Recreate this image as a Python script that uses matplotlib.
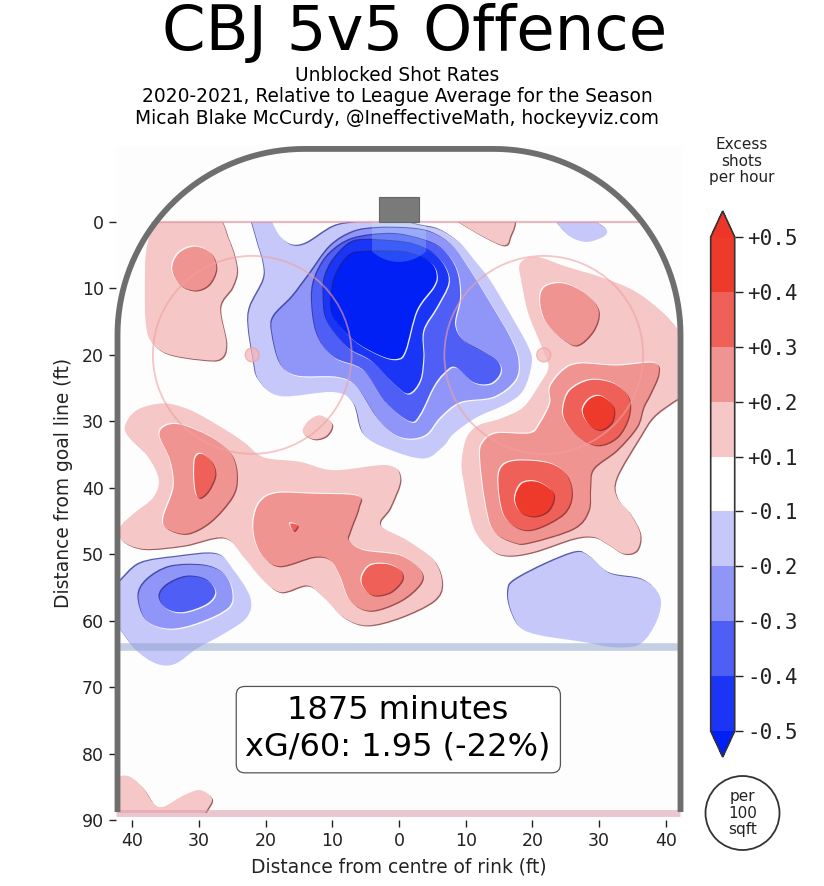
import numpy as np
import matplotlib
matplotlib.use("Agg")
import matplotlib.pyplot as plt
import matplotlib.patheffects as pe
from matplotlib.cm import ScalarMappable
from matplotlib.colors import BoundaryNorm, ListedColormap
from matplotlib.patches import Circle, Ellipse, FancyBboxPatch, PathPatch, Rectangle
from matplotlib.path import Path

# contour outlines, (feet across, feet from goal line)
RED_1 = [
    [(-36, -1.5), (-28, -1.5), (-25.5, 2.7), (-24.3, 7), (-25, 9.8), (-26.8, 12.8), (-25.9, 18.3), (-26.8, 20.6),
     (-29.8, 20.7), (-34.8, 19.8), (-37.3, 17.8), (-38, 14.8), (-38.1, 10.3), (-38, 5.2), (-37.3, 1.7)],
    [(-14.45, 31.3), (-13.55, 29.9), (-11.8, 29.1), (-10.05, 30.4), (-10.8, 32.1), (-12.55, 32.7), (-14.05, 32.1)],
    [(7.5, -1), (8.9, 0), (12.65, 2.2), (15.65, 3.5), (16.6, 2.4), (16.7, -1)],
    [(18.15, 6.25), (20.65, 5.25), (25.15, 6.75), (30.15, 8.25), (35.15, 10.3), (39.15, 13.3), (41.9, 16.3),
     (44.5, 19), (45, 24.5), (41.15, 27), (38.15, 29.3), (36.15, 32.3), (32.65, 38.4), (32.65, 41.4), (34.65, 43.9),
     (36.15, 46.9), (35.65, 49.4), (33.65, 49.9), (31.15, 48.4), (29.15, 47.4), (26.15, 47.65), (20.15, 49.65),
     (16.15, 50.2), (13.65, 49.2), (11.15, 45.9), (9.65, 38.9), (9.4, 35.85), (10.15, 32.4), (11.9, 30.6),
     (15.15, 29.6), (18.65, 27.85), (21.15, 24.3), (22.4, 21.8), (21.4, 18.8), (19.4, 13.8), (18.4, 9.25)],
    [(-41.05, 30.6), (-39.3, 28.3), (-35.3, 27.3), (-31.3, 28.3), (-26.3, 31.1), (-23.3, 33.1), (-20.3, 35.4),
     (-14.8, 36.1), (-9.8, 37.35), (-1.8, 36.6), (0.2, 38.6), (-1.3, 42.9), (-2.8, 45.6), (1.2, 47.9), (5.2, 50.9),
     (6.45, 54.4), (5.2, 57), (0.2, 59.5), (-4.8, 60.7), (-8.3, 59.5), (-11.3, 56.45), (-13.8, 54.7), (-17.8, 55.7),
     (-20.8, 53.4), (-23.3, 50.4), (-26.3, 47.5), (-32.3, 48.7), (-38.3, 49.2), (-41.55, 47.9), (-41.8, 45.9),
     (-39.8, 43.9), (-36.8, 41.4), (-36.05, 38.6), (-37.8, 35.1), (-40.55, 32.3)],
    [(-42.05, 83.5), (-40.3, 83.5), (-38.3, 85.3), (-36.8, 87.5), (-35.3, 88), (-32.3, 86.3), (-29.8, 85.5),
     (-28.05, 86.8), (-28.8, 88.5), (-29.3, 89.3), (-30, 91), (-44, 91), (-44, 85)],
]
RED_2 = [
    [(-34, 7), (-33, 4.7), (-30.6, 3.7), (-28.2, 4.7), (-27.4, 7), (-28.5, 9.4), (-30.6, 10.3), (-32.9, 9.4)],
    [(21.15, 11.75), (21.9, 9.75), (24.65, 9.25), (27.9, 10.75), (29.9, 13.3), (29.15, 16.3), (26.65, 18.55),
     (24.15, 17.3), (21.9, 14.8)],
    [(38.15, 21.2), (38.9, 22.8), (37.65, 25.85), (36.65, 27.8), (35.65, 30.8), (32.65, 34.3), (29.15, 37.1),
     (28.65, 39.9), (28.4, 43.4), (26.15, 46.1), (19.65, 48.2), (17.15, 48.2), (14.15, 46.4), (12.9, 41.9),
     (12.15, 35.3), (12.65, 33.1), (14.65, 31.8), (19.65, 31.8), (21.15, 30.3), (22.65, 27.3), (22.65, 24.85),
     (24.65, 22.3), (27.15, 21.3), (32.65, 21.6)],
    [(-35.9, 32.1), (-34.8, 30.6), (-32.3, 30.6), (-27.8, 32.6), (-25.05, 35.1), (-24.3, 38.4), (-25.05, 41.4),
     (-28.3, 45.1), (-31.8, 46.9), (-34.8, 46.1), (-35.3, 44.4), (-33.8, 39.9), (-34.3, 35.85)],
    [(-21.8, 44.9), (-20.8, 42.1), (-18.3, 40.8), (-12.8, 40.9), (-6.3, 41.2), (-6.05, 42.9), (-7.3, 46.4),
     (-7.55, 47.9), (-5.3, 49.4), (0.2, 50.2), (3.2, 52.4), (3.2, 54.4), (0.2, 57), (-4.3, 58.5), (-7.3, 57),
     (-8.8, 53.4), (-10.3, 50.9), (-12.8, 50.4), (-17.8, 51.8), (-20.3, 50.4), (-21.55, 47.9)],
]
RED_3 = [
    [(24.65, 27.85), (25.65, 25.35), (28.65, 23.8), (32.15, 24.3), (34.4, 26.35), (34.4, 29.35), (32.65, 32.4),
     (29.65, 33.6), (26.65, 32.1), (24.9, 29.85)],
    [(14.9, 38.9), (15.65, 36.6), (18.15, 35.9), (22.65, 36.35), (25.15, 38.1), (25.9, 41.1), (24.65, 43.9),
     (20.65, 46.1), (17.9, 46.1), (15.65, 43.9)],
    [(-30.55, 35.6), (-29.55, 34.9), (-28.05, 36.1), (-27.55, 38.1), (-28.55, 40.4), (-29.8, 41.5), (-30.4, 40.9),
     (-30.7, 38.4)],
    [(-16.3, 45.4), (-15.2, 45.65), (-15.8, 46.5)],
    [(-5.55, 53.4), (-4.3, 51.7), (-1.8, 51.5), (0.2, 52.4), (0.45, 53.9), (-1.3, 55.7), (-3.8, 56.2), (-5.3, 55)],
]
RED_4 = [
    [(27.55, 28.35), (28.65, 26.6), (30.4, 26.25), (32.15, 27.85), (31.9, 30.1), (30.15, 31.3), (28.4, 30.4)],
    [(17.4, 41.6), (18.4, 39.4), (20.65, 39.1), (22.9, 40.4), (23.15, 41.9), (22.15, 43.6), (20.15, 44.3),
     (18.15, 43.6)],
]
BLUE_1 = [
    [(-22.2, -1.5), (-21.3, 2.7), (-20.3, 6.2), (-20.3, 8.75), (-22.3, 12.8), (-22.55, 15.8), (-21.8, 20.8),
     (-21, 23.8), (-17.8, 26.2), (-9.8, 25.6), (-6.8, 27.3), (-5.3, 31.9), (-1.8, 34.1), (3.7, 35.6), (6.7, 33.7),
     (8.15, 31.9), (11.65, 29.4), (16.15, 27.35), (18.65, 25.3), (19.9, 21.3), (19.4, 18.8), (16.65, 13.8),
     (13.65, 8.75), (11.65, 6.2), (9.15, 3.2), (6.15, 1.2), (3.15, 0.5), (-2, -0.6), (-6.3, 0), (-9.8, 0.7),
     (-13.8, 3.2), (-16, 3.5), (-17.8, 2.2), (-19, 0), (-19.5, -1.5)],
    [(23.4, -1), (23.65, 0), (25.65, 2.2), (28.15, 3), (30.65, 2.2), (31.15, 1.2), (29.65, 0), (29.5, -1)],
    [(16.4, 55.4), (17.4, 53.9), (22.15, 51.4), (26.65, 49.7), (28.65, 50.4), (31.65, 52.9), (36.65, 53.9),
     (39.15, 56.45), (38.65, 60), (36.15, 63.5), (32.15, 64), (27.65, 63.2), (21.15, 62.2), (18.15, 61), (16.65, 58)],
    [(-44, 55), (-42, 54.2), (-38.8, 51.4), (-33.3, 50.4), (-27.3, 50), (-24.8, 52.4), (-22.3, 56.5), (-22.8, 59.5),
     (-26.3, 62), (-30.3, 64.2), (-33.55, 66.5), (-36.3, 66.5), (-39.3, 64.5), (-42, 61), (-44, 58)],
]
BLUE_2 = [
    [(-18.8, 14.3), (-16, 11.3), (-13.5, 8), (-10.3, 3.7), (-6.8, 1.5), (-3, 0.9), (2, 1), (5.15, 1.7), (8.15, 3.7),
     (10.65, 7.25), (13.15, 11.3), (16.65, 17.3), (17.9, 20.8), (17.4, 23.8), (14.15, 26.3), (9.15, 27.1),
     (6.15, 29.4), (4.15, 31.9), (1.7, 32.6), (-0.8, 31.9), (-3.3, 29.4), (-6.3, 24.8), (-9.3, 23.3), (-15.3, 23.1),
     (-17.8, 21.3), (-19, 16.8)],
    [(-39.05, 56.45), (-37.8, 53.9), (-34.3, 51.9), (-29.3, 51.7), (-26.3, 52.9), (-25.05, 55.4), (-25.55, 58),
     (-29.8, 60.2), (-34.3, 61.2), (-37.8, 60)],
]
BLUE_3 = [
    [(-12.3, 7.75), (-13.05, 11.3), (-12.3, 16.8), (-9.8, 20.3), (-5.3, 22.3), (-1.8, 27.3), (1.65, 30), (3.15, 28.9),
     (5.15, 24.8), (6.65, 22.8), (8.4, 21.8), (11.15, 24.1), (13.65, 24.3), (15.15, 22.8), (14.9, 21.1),
     (12.65, 19.6), (9.65, 17.8), (8.4, 15.3), (9.15, 11.3), (8.65, 7.25), (6.65, 4.2), (3.65, 2.7), (-1, 1.8),
     (-6.8, 2.5), (-10.3, 4.7)],
    [(-35.9, 56.45), (-34.8, 54.7), (-31.8, 53.4), (-28.8, 53.9), (-27.55, 55.7), (-28.8, 57.45), (-32.3, 58.7),
     (-34.8, 58.2)],
]
BLUE_4 = [
    [(-11.3, 10.8), (-10.8, 14.8), (-7.8, 18.8), (-4.3, 20.8), (-0.8, 24.3), (1.4, 25.8), (3.15, 23.8), (3.65, 20.3),
     (3.65, 16.3), (5.65, 12.8), (7.4, 9.25), (6.9, 6.75), (5.15, 4.7), (2.65, 3.5), (0.15, 3), (-4.8, 2.7),
     (-7.3, 3.2), (-9.8, 5.7), (-11.05, 8.25)],
]
BLUE_5 = [
    [(-10.05, 10.8), (-9.8, 14.3), (-6.8, 17.8), (-2.8, 20.1), (-0.3, 20.6), (0.95, 19.3), (2.65, 13.3), (5.15, 9.75),
     (5.65, 8), (4.9, 6.25), (2.65, 5), (0.15, 4.5), (-4.8, 4.5), (-7.3, 5), (-9.3, 7.75)],
]

bar_bounds = [-0.5, -0.4, -0.3, -0.2, -0.1, 0.1, 0.2, 0.3, 0.4, 0.5]
bar_labels = ["-0.5", "-0.4", "-0.3", "-0.2", "-0.1", "+0.1", "+0.2", "+0.3", "+0.4", "+0.5"]
bar_colors = ["#1a35f6", "#4f5ff6", "#9096f8", "#c6c8fa", "#ffffff", "#f5c7c7", "#f09491", "#ee6058", "#ee3a2b"]
under_color = "#0020f5"
over_color = "#ee3527"

x_ticks = [-40, -30, -20, -10, 0, 10, 20, 30, 40]
y_ticks = [0, 10, 20, 30, 40, 50, 60, 70, 80, 90]

RED_BANDS = [(RED_1, "#f5c7c7"), (RED_2, "#f09491"), (RED_3, "#ee6058"), (RED_4, "#ee3a2b")]
BLUE_BANDS = [(BLUE_1, "#c6c8fa"), (BLUE_2, "#9096f8"), (BLUE_3, "#4f5ff6"), (BLUE_4, "#1a35f6"), (BLUE_5, "#0020f5")]

W, H = 824, 886


def smooth_path(points):
    # closed Catmull-Rom outline as bezier segments so it goes through the points
    p = np.array(points, dtype=float)
    n = len(p)
    verts = [p[0]]
    codes = [Path.MOVETO]
    for i in range(n):
        p0, p1, p2, p3 = p[i - 1], p[i], p[(i + 1) % n], p[(i + 2) % n]
        verts += [p1 + (p2 - p0) / 6, p2 - (p3 - p1) / 6, p2]
        codes += [Path.CURVE4] * 3
    return Path(verts, codes)


def draw_band(ax, outlines, color, dark, clip, flip=False):
    # bevel: dark copy to one side, white copy to the other, then the fill
    sign = -1 if flip else 1
    effects = [
        pe.SimplePatchShadow(offset=(0.8 * sign, -0.8 * sign), shadow_rgbFace=dark, alpha=0.7, rho=1),
        pe.SimplePatchShadow(offset=(-0.8 * sign, 0.8 * sign), shadow_rgbFace="#ffffff", alpha=0.9, rho=1),
        pe.Normal(),
    ]
    for outline in outlines:
        patch = PathPatch(smooth_path(outline), facecolor=color, edgecolor="none", zorder=2)
        patch.set_path_effects(effects)
        ax.add_patch(patch)
        patch.set_clip_path(clip)


fig = plt.figure(figsize=(W / 100, H / 100), dpi=100, facecolor="white")
ax = fig.add_axes([115.5 / W, 1 - 820 / H, 567 / W, (820 - 145.6) / H])
ax.set_xlim(-42.5, 42.5)
ax.set_ylim(90, -11.5)
ax.set_facecolor("#fdfdfd")
for side in ax.spines.values():
    side.set_visible(False)

clip_box = Rectangle((-42.2, 0), 84.4, 89, transform=ax.transData)

for outlines, color in RED_BANDS:
    draw_band(ax, outlines, color, "#7a1a1a", clip_box)
for outlines, color in BLUE_BANDS:
    draw_band(ax, outlines, color, "#10188c", clip_box, flip=True)

# rink markings on top of the shading
ax.plot([-36.3, 36], [0, 0], color="#dc8c96", alpha=0.6, lw=1.6, zorder=3, solid_capstyle="butt")
ax.plot([-42.5, 42.2], [64, 64], color="#8ea2cc", alpha=0.5, lw=5.5, zorder=3, solid_capstyle="butt")
ax.plot([-42.5, 42.2], [89, 89], color="#dc9aaa", alpha=0.55, lw=5.0, zorder=3, solid_capstyle="butt")

for cx in [-22, 21.7]:
    ax.add_patch(Circle((cx, 20), 14.9, facecolor="none", edgecolor="#f0a0a0", alpha=0.6, lw=1.3, zorder=3))
    ax.add_patch(Circle((cx, 20), 1.05, facecolor="#f5b5b5", edgecolor="#f0a0a0", alpha=0.7, lw=1, zorder=3))

crease = Circle((0, 0), 6, facecolor="#c8ffff", edgecolor="none", alpha=0.2, zorder=3)
ax.add_patch(crease)
crease.set_clip_path(Rectangle((-4, 0), 8, 6, transform=ax.transData))

ax.add_patch(Rectangle((-3, -3.75), 6, 3.75, facecolor="#7a7a7a", edgecolor="#666666", lw=0.8, zorder=4))

# boards
t = np.linspace(np.pi, 1.5 * np.pi, 40)
left_x = -14.2 + 28 * np.cos(t)
left_y = 17 + 28 * np.sin(t)
board_x = np.concatenate([[-42.2], left_x, -left_x[::-1], [42.2]])
board_y = np.concatenate([[88.8], left_y, left_y[::-1], [88.8]])
ax.plot(board_x, board_y, color="#6e6e6e", lw=4.2, zorder=5, solid_capstyle="butt", clip_on=False)

ax.add_patch(FancyBboxPatch((-24.4, 69.9), 48.6, 13, boxstyle="round,pad=0,rounding_size=1.3",
                            facecolor="white", edgecolor="#555555", lw=0.9, zorder=6))
ax.text(-0.2, 76.3, "1875 minutes\nxG/60: 1.95 (-22%)", ha="center", va="center", fontsize=23, zorder=7,
        linespacing=1.22)

ax.set_xticks(x_ticks)
ax.set_xticklabels([str(abs(v)) for v in x_ticks])
ax.set_yticks(y_ticks)
ax.tick_params(labelsize=12.5, length=5, width=1, colors="#222222")
ax.set_xlabel("Distance from centre of rink (ft)", fontsize=13.4, color="#222222", labelpad=5.5)
ax.set_ylabel("Distance from goal line (ft)", fontsize=13.4, color="#222222", labelpad=6)

fig.text(415 / W, 1 - 33 / H, "CBJ 5v5 Offence", ha="center", va="center", fontsize=45)
fig.text(397 / W, 1 - 97 / H,
         "Unblocked Shot Rates\n2020-2021, Relative to League Average for the Season\n"
         "Micah Blake McCurdy, @IneffectiveMath, hockeyviz.com",
         ha="center", va="center", fontsize=13.4, linespacing=1.18)

# colour bar, axes includes the two end triangles
cax = fig.add_axes([710.7 / W, 1 - 757 / H, 24 / W, 546 / H])
cmap = ListedColormap(bar_colors)
cmap.set_under(under_color)
cmap.set_over(over_color)
norm = BoundaryNorm(bar_bounds, cmap.N)
cb = fig.colorbar(ScalarMappable(norm=norm, cmap=cmap), cax=cax, extend="both", spacing="uniform",
                  extendfrac=26 / 496, ticks=bar_bounds)
cb.ax.set_yticklabels(bar_labels, family="DejaVu Sans Mono", fontsize=15)
cb.ax.tick_params(length=6, width=1, pad=3, colors="#222222")
cb.outline.set_edgecolor("#333333")
cb.outline.set_linewidth(1.2)

fig.text(742 / W, 1 - 161 / H, "Excess\nshots\nper hour", ha="center", va="center", fontsize=11,
         color="#222222", linespacing=1.15)

fig.add_artist(Ellipse((742.5 / W, 1 - 813 / H), 74 / W, 74 / H, transform=fig.transFigure,
                       facecolor="white", edgecolor="#333333", lw=1.3))
fig.text(742.5 / W, 1 - 813 / H, "per\n100\nsqft", ha="center", va="center", fontsize=11, color="#222222",
         linespacing=1.15)

fig.savefig("out.png", dpi=100)
